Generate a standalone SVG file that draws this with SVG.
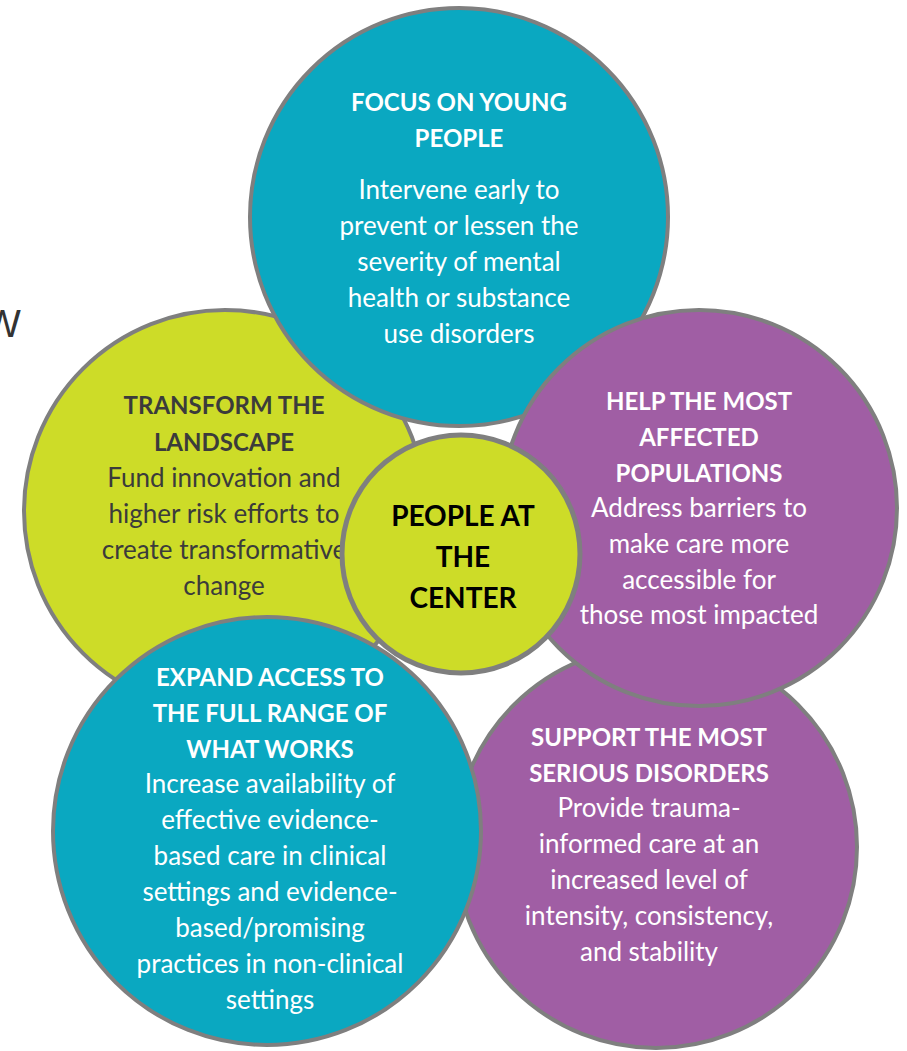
<svg xmlns="http://www.w3.org/2000/svg" width="907" height="1051" viewBox="0 0 907 1051">
<style>
.c{stroke:#7f7f7f;stroke-width:4}
.teal{fill:#0aa8c1}
.purple{fill:#a05ea4}
.yellow{fill:#cddc28}
text{font-family:Lato,"Liberation Sans",sans-serif;text-anchor:middle}
.h{font-weight:bold;font-size:24px}
.b{font-size:26px}
.w{fill:#ffffff}
.d{fill:#3b3b3b}
.k{fill:#000000;font-weight:bold;font-size:28px}
</style>
<rect width="907" height="1051" fill="#ffffff"/>
<text x="-16" y="337" style="font-family:'Liberation Sans',sans-serif;font-size:39px;text-anchor:start" fill="#333333">W</text>

<g id="transform">
<circle class="c yellow" cx="225" cy="511" r="201"/>
<text class="h d" x="224" y="414">TRANSFORM THE</text>
<text class="h d" x="224" y="451">LANDSCAPE</text>
<text class="b d" x="224" y="487">Fund innovation and</text>
<text class="b d" x="224" y="523">higher risk efforts to</text>
<text class="b d" x="224" y="559">create transformative</text>
<text class="b d" x="224" y="595">change</text>
</g>

<g id="support">
<circle class="c purple" cx="656" cy="847" r="201"/>
<text class="h w" x="649" y="746">SUPPORT THE MOST</text>
<text class="h w" x="649" y="782">SERIOUS DISORDERS</text>
<text class="b w" x="649" y="817">Provide trauma-</text>
<text class="b w" x="649" y="853">informed care at an</text>
<text class="b w" x="649" y="889">increased level of</text>
<text class="b w" x="649" y="925">intensity, consistency,</text>
<text class="b w" x="649" y="961">and stability</text>
</g>

<g id="young">
<circle class="c teal" cx="459" cy="217" r="209"/>
<text class="h w" x="459" y="111">FOCUS ON YOUNG</text>
<text class="h w" x="459" y="147">PEOPLE</text>
<text class="b w" x="459" y="199">Intervene early to</text>
<text class="b w" x="459" y="235">prevent or lessen the</text>
<text class="b w" x="459" y="271">severity of mental</text>
<text class="b w" x="459" y="307">health or substance</text>
<text class="b w" x="459" y="343">use disorders</text>
</g>

<g id="help">
<circle class="c purple" cx="699" cy="508" r="198"/>
<text class="h w" x="699" y="410">HELP THE MOST</text>
<text class="h w" x="699" y="446">AFFECTED</text>
<text class="h w" x="699" y="482">POPULATIONS</text>
<text class="b w" x="699" y="517">Address barriers to</text>
<text class="b w" x="699" y="553">make care more</text>
<text class="b w" x="699" y="589">accessible for</text>
<text class="b w" x="699" y="624">those most impacted</text>
</g>

<g id="expand">
<circle class="c teal" cx="267" cy="831" r="214"/>
<text class="h w" x="270" y="686">EXPAND ACCESS TO</text>
<text class="h w" x="270" y="722">THE FULL RANGE OF</text>
<text class="h w" x="270" y="758">WHAT WORKS</text>
<text class="b w" x="270" y="793">Increase availability of</text>
<text class="b w" x="270" y="829">effective evidence-</text>
<text class="b w" x="270" y="865">based care in clinical</text>
<text class="b w" x="270" y="901">settings and evidence-</text>
<text class="b w" x="270" y="937">based/promising</text>
<text class="b w" x="270" y="973">practices in non-clinical</text>
<text class="b w" x="270" y="1009">settings</text>
</g>

<g id="center">
<circle class="c yellow" cx="461" cy="554" r="119" style="stroke-width:5"/>
<text class="k" x="463" y="526">PEOPLE AT</text>
<text class="k" x="463" y="567">THE</text>
<text class="k" x="463" y="608">CENTER</text>
</g>
</svg>
